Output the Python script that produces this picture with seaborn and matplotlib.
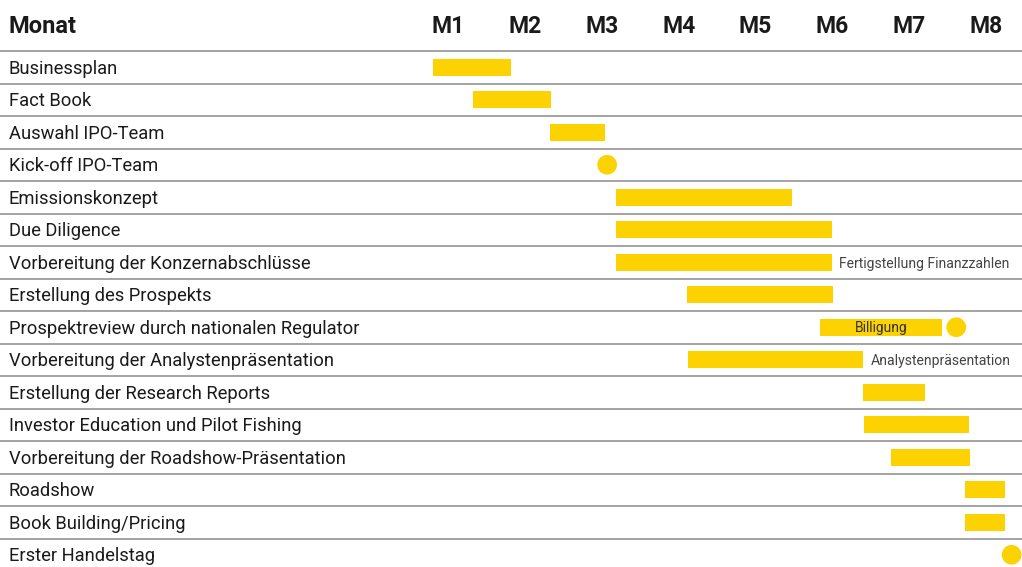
import matplotlib
matplotlib.use("Agg")
import matplotlib.pyplot as plt
import matplotlib.transforms as mtransforms
import numpy as np
import pandas as pd
import seaborn as sns

# tasks (top to bottom)
tasks = [
    "Businessplan",
    "Fact Book",
    "Auswahl IPO-Team",
    "Kick-off IPO-Team",
    "Emissionskonzept",
    "Due Diligence",
    "Vorbereitung der Konzernabschlüsse",
    "Erstellung des Prospekts",
    "Prospektreview durch nationalen Regulator",
    "Vorbereitung der Analystenpräsentation",
    "Erstellung der Research Reports",
    "Investor Education und Pilot Fishing",
    "Vorbereitung der Roadshow-Präsentation",
    "Roadshow",
    "Book Building/Pricing",
    "Erster Handelstag",
]
months = ["M1", "M2", "M3", "M4", "M5", "M6", "M7", "M8"]

# bars: row index, start (months from start of M1), end
bar_rows = [0, 1, 2, 4, 5, 6, 7, 8, 9, 10, 11, 12, 13, 14]
bar_start = [0.31, 0.83, 1.83, 2.69, 2.69, 2.69, 3.61, 5.34, 3.62, 5.90, 5.91, 6.26, 7.22, 7.22]
bar_end = [1.32, 1.84, 2.54, 4.97, 5.49, 5.49, 5.51, 6.92, 5.90, 6.70, 7.28, 7.29, 7.74, 7.74]

# milestones
ms_rows = [3, 8, 15]
ms_pos = [2.57, 7.11, 7.83]

# notes next to / inside bars
note_rows = [6, 8, 9]
note_text = ["Fertigstellung Finanzzahlen", "Billigung", "Analystenpräsentation"]

YELLOW = "#FCD200"
LINE = "#8a8a8a"

sns.set_theme(style="white")
plt.rcParams["font.family"] = ["Roboto", "DejaVu Sans"]

W, H = 1022, 567
fig = plt.figure(figsize=(W / 100, H / 100), dpi=100)
ax = fig.add_axes([0, 0, 1, 1])

# pixel mapping: x = 409.5 + 76.9*t, y = 51 + 32.5*(row+0.5)
ax.set_xlim(-409.5 / 76.9, (W - 409.5) / 76.9)
ax.set_ylim((H - 51) / 32.5 - 0.5, -51 / 32.5 - 0.5)
ax.axis("off")

bars = pd.DataFrame({"row": bar_rows, "start": bar_start, "end": bar_end})
ax.barh(bars["row"], bars["end"] - bars["start"], left=bars["start"],
        height=0.52, color=YELLOW, linewidth=0, zorder=3)

ms = pd.DataFrame({"row": ms_rows, "pos": ms_pos})
sns.scatterplot(data=ms, x="pos", y="row", ax=ax, s=200, color=YELLOW,
                edgecolor="none", zorder=4, legend=False)

# row separators
for k in range(len(tasks)):
    ax.axhline(k - 0.5, color=LINE, lw=1.1, zorder=1)

trans = mtransforms.blended_transform_factory(ax.transAxes, ax.transData)
ax.text(9 / W, -1.25, "Monat", transform=trans, fontsize=17,
        fontweight="bold", color="#1a1a1a", va="center", ha="left")
for i, m in enumerate(months):
    ax.text(i + 0.5, -1.25, m, fontsize=16.5, fontweight="bold",
            color="#1a1a1a", va="center", ha="center")

for i, t in enumerate(tasks):
    ax.text(9 / W, i + 0.05, t, transform=trans, fontsize=13.2,
            color="#1a1a1a", va="center", ha="left")

bar_lookup = dict(zip(bars["row"], zip(bars["start"], bars["end"])))
for r, txt in zip(note_rows, note_text):
    s, e = bar_lookup[r]
    if txt == "Billigung":
        ax.text((s + e) / 2, r + 0.02, txt, fontsize=10, color="#333333",
                va="center", ha="center", zorder=5)
    else:
        ax.text(e + 0.1, r + 0.05, txt, fontsize=10.1, color="#444444",
                va="center", ha="left", zorder=5)

fig.savefig("out.png", dpi=100)
